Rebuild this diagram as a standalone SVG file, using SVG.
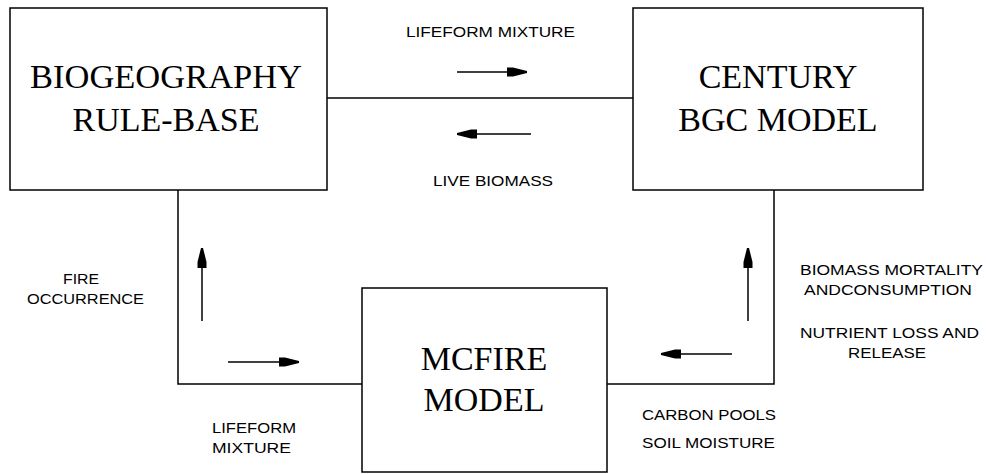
<svg xmlns="http://www.w3.org/2000/svg" width="986" height="474" viewBox="0 0 986 474">
<style>
.box{fill:#fff;stroke:#000;stroke-width:1.5}
.ln{fill:none;stroke:#000;stroke-width:1.5}
.ar{fill:none;stroke:#000;stroke-width:1.5;marker-end:url(#ah)}
.big{font-family:"Liberation Serif","Times New Roman",serif;font-size:34px;fill:#000;text-anchor:middle}
.sm{font-family:"Liberation Sans",Arial,sans-serif;font-size:14px;fill:#000}
</style>
<defs>
<marker id="ah" markerUnits="userSpaceOnUse" markerWidth="22" markerHeight="12" refX="20" refY="6" orient="auto">
<path d="M0,1.5 L6,1.5 L20,5 L20,7 L6,10.5 L0,10.5 Z" fill="#000"/>
</marker>
</defs>
<rect width="986" height="474" fill="#fff"/>
<g id="connectors">
<line class="ln" x1="327" y1="98" x2="634" y2="98"/>
<polyline class="ln" points="178,190 178,384 362,384"/>
<polyline class="ln" points="774,190 774,384 607,384"/>
<line class="ar" x1="457" y1="72" x2="527" y2="72"/>
<line class="ar" x1="531" y1="134" x2="457" y2="134"/>
<line class="ar" x1="202" y1="321" x2="202" y2="248"/>
<line class="ar" x1="228" y1="362" x2="299" y2="362"/>
<line class="ar" x1="748" y1="321" x2="748" y2="248"/>
<line class="ar" x1="732" y1="354" x2="661" y2="354"/>
</g>
<g id="biogeography">
<rect class="box" x="10" y="8" width="317" height="182"/>
<text class="big" x="166" y="88" textLength="272" lengthAdjust="spacingAndGlyphs">BIOGEOGRAPHY</text>
<text class="big" x="166" y="131">RULE-BASE</text>
</g>
<g id="century">
<rect class="box" x="633" y="8" width="290" height="182"/>
<text class="big" x="778" y="88">CENTURY</text>
<text class="big" x="778" y="131">BGC MODEL</text>
</g>
<g id="mcfire">
<rect class="box" x="362" y="288" width="245" height="184"/>
<text class="big" x="484" y="370">MCFIRE</text>
<text class="big" x="484" y="411">MODEL</text>
</g>
<g id="labels">
<text class="sm" x="406" y="37" textLength="169" lengthAdjust="spacingAndGlyphs">LIFEFORM MIXTURE</text>
<text class="sm" x="433" y="186" textLength="120" lengthAdjust="spacingAndGlyphs">LIVE BIOMASS</text>
<text class="sm" x="63" y="284" textLength="36" lengthAdjust="spacingAndGlyphs">FIRE</text>
<text class="sm" x="27" y="304" textLength="117" lengthAdjust="spacingAndGlyphs">OCCURRENCE</text>
<text class="sm" x="212" y="433" textLength="84" lengthAdjust="spacingAndGlyphs">LIFEFORM</text>
<text class="sm" x="212" y="453" textLength="79" lengthAdjust="spacingAndGlyphs">MIXTURE</text>
<text class="sm" x="800" y="275" textLength="183" lengthAdjust="spacingAndGlyphs">BIOMASS MORTALITY</text>
<text class="sm" x="804" y="295" textLength="168" lengthAdjust="spacingAndGlyphs">ANDCONSUMPTION</text>
<text class="sm" x="800" y="338" textLength="179" lengthAdjust="spacingAndGlyphs">NUTRIENT LOSS AND</text>
<text class="sm" x="848" y="358" textLength="78" lengthAdjust="spacingAndGlyphs">RELEASE</text>
<text class="sm" x="642" y="420" textLength="134" lengthAdjust="spacingAndGlyphs">CARBON POOLS</text>
<text class="sm" x="642" y="448" textLength="133" lengthAdjust="spacingAndGlyphs">SOIL MOISTURE</text>
</g>
</svg>
